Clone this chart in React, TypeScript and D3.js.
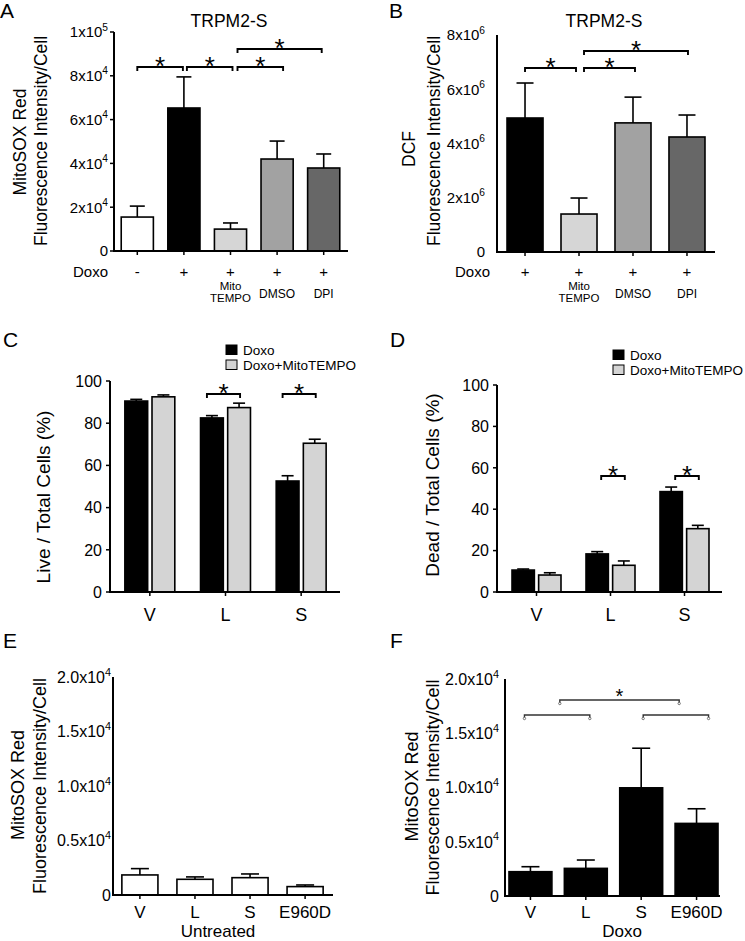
import React from "react";
import * as d3 from "d3";

const FONT = "'Liberation Sans', Arial, Helvetica, sans-serif";

// ---------- Panel A ----------
const aGroups = ["Control", "Doxo", "Doxo+MitoTEMPO", "Doxo+DMSO", "Doxo+DPI"];
const aDoxo = ["-", "+", "+", "+", "+"];
const aSub = [[], [], ["Mito", "TEMPO"], ["DMSO"], ["DPI"]];
const aValues = [15500, 65300, 10000, 42000, 37900];
const aErrors = [5000, 14200, 2800, 8200, 6400];
const aColors = ["#ffffff", "#000000", "#d6d6d6", "#a2a2a2", "#676767"];
const aTicks = [0, 2e4, 4e4, 6e4, 8e4, 1e5];
const aTickLabels = [["0", ""], ["2x10", "4"], ["4x10", "4"], ["6x10", "4"], ["8x10", "4"], ["1x10", "5"]];
const aBrackets = [[0, 1], [1, 2], [2, 3], [2, 4]];

// ---------- Panel B ----------
const bGroups = ["Doxo", "Doxo+MitoTEMPO", "Doxo+DMSO", "Doxo+DPI"];
const bDoxo = ["+", "+", "+", "+"];
const bSub = [[], ["Mito", "TEMPO"], ["DMSO"], ["DPI"]];
const bValues = [4.94e6, 1.4e6, 4.76e6, 4.24e6];
const bErrors = [1.29e6, 0.59e6, 0.95e6, 0.81e6];
const bColors = ["#000000", "#d6d6d6", "#a2a2a2", "#676767"];
const bTicks = [0, 2e6, 4e6, 6e6, 8e6];
const bTickLabels = [["0", ""], ["2x10", "6"], ["4x10", "6"], ["6x10", "6"], ["8x10", "6"]];
const bBrackets = [[0, 1], [1, 2], [1, 3]];

// ---------- Panels C & D ----------
const cdGroups = ["V", "L", "S"];
const cdSeries = ["Doxo", "Doxo+MitoTEMPO"];
const cdColors = ["#000000", "#d4d4d4"];
const cLiveDoxo = [90.5, 82.5, 52.6];
const cLiveDoxoErr = [0.8, 1.1, 2.5];
const cLiveMito = [92.5, 87.4, 70.5];
const cLiveMitoErr = [0.9, 2.1, 1.9];
const dDeadDoxo = [10.6, 18.4, 48.5];
const dDeadDoxoErr = [0.5, 1.1, 2.2];
const dDeadMito = [8.2, 12.9, 30.6];
const dDeadMitoErr = [1.1, 2.1, 1.6];
const cdTicks = [0, 20, 40, 60, 80, 100];
const cdSigGroups = ["L", "S"];

// ---------- Panels E & F ----------
const efGroups = ["V", "L", "S", "E960D"];
const eUntreated = [1840, 1440, 1590, 770];
const eUntreatedErr = [580, 220, 340, 150];
const fDoxo = [2240, 2546, 9970, 6690];
const fDoxoErr = [460, 770, 3650, 1350];
const efTicks = [0, 5000, 10000, 15000, 20000];
const efTickLabels = [["0", ""], ["0.5x10", "4"], ["1.0x10", "4"], ["1.5x10", "4"], ["2.0x10", "4"]];
const fBrackets = [[0, 1, 0], [2, 3, 0], [1, 2, 1]];

const AX = 2;

function YTickLabel({ x, y, label, fs }: any) {
  return (
    <text x={x} y={y + fs * 0.36} textAnchor="end" fontSize={fs}>
      {label[0]}
      {label[1] ? (
        <tspan dy={-fs * 0.45} fontSize={fs * 0.68}>
          {label[1]}
        </tspan>
      ) : null}
    </text>
  );
}

function YAxis({ x, scale, ticks, labels, fs, gap, tick = 4 }: any) {
  const [d0, d1] = scale.domain();
  return (
    <g>
      <line x1={x} x2={x} y1={scale(d0) + 1} y2={scale(d1)} stroke="#000" strokeWidth={AX} />
      {ticks.map((t: number, i: number) => (
        <g key={i}>
          {tick > 0 && <line x1={x - tick} x2={x} y1={scale(t)} y2={scale(t)} stroke="#000" strokeWidth={1.5} />}
          <YTickLabel x={x - gap} y={scale(t)} label={labels[i]} fs={fs} />
        </g>
      ))}
    </g>
  );
}

function XAxis({ x0, x1, y, centers, tick = 4 }: any) {
  return (
    <g>
      <line x1={x0 - 1} x2={x1} y1={y} y2={y} stroke="#000" strokeWidth={AX} />
      {centers.map((c: number, i: number) => (
        <line key={i} x1={c} x2={c} y1={y} y2={y + tick} stroke="#000" strokeWidth={1.5} />
      ))}
    </g>
  );
}

function Bar({ x, w, y0, y, fill, err, cap }: any) {
  const c = x + w / 2;
  return (
    <g>
      <line x1={c} x2={c} y1={y} y2={err} stroke="#000" strokeWidth={1.6} />
      <line x1={c - cap / 2} x2={c + cap / 2} y1={err} y2={err} stroke="#000" strokeWidth={1.6} />
      <rect x={x} y={y} width={w} height={y0 - y} fill={fill} stroke="#000" strokeWidth={1.6} />
    </g>
  );
}

function Bracket({ x1, x2, y, star = 26, drop = 4 }: any) {
  return (
    <g>
      <path d={`M${x1},${y + drop}V${y}H${x2}V${y + drop}`} fill="none" stroke="#000" strokeWidth={1.9} />
      <text x={(x1 + x2) / 2} y={y + 8} textAnchor="middle" fontSize={star}>
        *
      </text>
    </g>
  );
}

function RotLabel({ x, y, text, fs }: any) {
  return (
    <text transform={`translate(${x},${y}) rotate(-90)`} textAnchor="middle" dominantBaseline="central" fontSize={fs}>
      {text}
    </text>
  );
}

function SubLabels({ cx, sub }: any) {
  if (sub.length === 2)
    return (
      <>
        <text x={cx} y={289.5} textAnchor="middle" fontSize={11.5}>{sub[0]}</text>
        <text x={cx} y={302} textAnchor="middle" fontSize={11.5}>{sub[1]}</text>
      </>
    );
  if (sub.length === 1)
    return <text x={cx} y={298} textAnchor="middle" fontSize={12}>{sub[0]}</text>;
  return null;
}

function PanelA() {
  const y = d3.scaleLinear().domain([0, 1e5]).range([251, 32]);
  const x = d3.scaleBand().domain(aGroups).range([114, 347]).paddingInner(0.31).paddingOuter(0.155);
  const bw = x.bandwidth();
  const cx = (i: number) => (x(aGroups[i]) as number) + bw / 2;
  const offs = [[0, -1], [3, 2], [7, 6], [7, -2]];
  const levels = [67, 67, 67, 49];
  return (
    <g>
      <text x={0} y={18} fontSize={21}>A</text>
      <text x={229} y={27} textAnchor="middle" fontSize={17.5}>TRPM2-S</text>
      <RotLabel x={20} y={142} text="MitoSOX Red" fs={17.5} />
      <RotLabel x={41} y={141} text="Fluorescence Intensity/Cell" fs={17.5} />
      {aGroups.map((g, i) => (
        <Bar key={g} x={x(g)} w={bw} y0={y(0)} y={y(aValues[i])} err={y(aValues[i] + aErrors[i])} fill={aColors[i]} cap={15} />
      ))}
      <YAxis x={114} scale={y} ticks={aTicks} labels={aTickLabels} fs={15} gap={6} />
      <XAxis x0={114} x1={348} y={251} centers={aGroups.map((_, i) => cx(i))} />
      {aBrackets.map(([f, t], i) => (
        <Bracket key={i} x1={cx(f) + offs[i][0]} x2={cx(t) + offs[i][1]} y={levels[i]} />
      ))}
      <text x={73} y={277} fontSize={15}>Doxo</text>
      {aGroups.map((g, i) => (
        <g key={g}>
          <text x={cx(i)} y={277} textAnchor="middle" fontSize={15}>{aDoxo[i]}</text>
          <SubLabels cx={cx(i)} sub={aSub[i]} />
        </g>
      ))}
    </g>
  );
}

function PanelB() {
  const y = d3.scaleLinear().domain([0, 8e6]).range([252, 35]);
  const x = d3.scaleBand().domain(bGroups).range([498, 714]).paddingInner(0.333).paddingOuter(0.167);
  const bw = x.bandwidth();
  const cx = (i: number) => (x(bGroups[i]) as number) + bw / 2;
  const offs = [[0, -3], [5, 2], [5, 1]];
  const levels = [68, 68, 51];
  return (
    <g>
      <text x={389} y={18} fontSize={21}>B</text>
      <text x={604} y={27} textAnchor="middle" fontSize={17.5}>TRPM2-S</text>
      <RotLabel x={409} y={149} text="DCF" fs={17.5} />
      <RotLabel x={434} y={141} text="Fluorescence Intensity/Cell" fs={17.5} />
      {bGroups.map((g, i) => (
        <Bar key={g} x={x(g)} w={bw} y0={y(0)} y={y(bValues[i])} err={y(bValues[i] + bErrors[i])} fill={bColors[i]} cap={17} />
      ))}
      <YAxis x={497} scale={y} ticks={bTicks} labels={bTickLabels} fs={15} gap={12} tick={0} />
      <XAxis x0={497} x1={715} y={252} centers={bGroups.map((_, i) => cx(i))} />
      {bBrackets.map(([f, t], i) => (
        <Bracket key={i} x1={cx(f) + offs[i][0]} x2={cx(t) + offs[i][1]} y={levels[i]} />
      ))}
      <text x={455} y={277} fontSize={15}>Doxo</text>
      {bGroups.map((g, i) => (
        <g key={g}>
          <text x={cx(i)} y={277} textAnchor="middle" fontSize={15}>{bDoxo[i]}</text>
          <SubLabels cx={cx(i)} sub={bSub[i]} />
        </g>
      ))}
    </g>
  );
}

function GroupedPanel({ letter, lx, axisX, xEnd, y0, yTop, range, pIn, pOut, vals, errs, title, titleX, titleY, legX, legY, brY, brOffs }: any) {
  const y = d3.scaleLinear().domain([0, 100]).range([y0, yTop]);
  const x = d3.scaleBand().domain(cdGroups).range(range).paddingInner(pIn).paddingOuter(pOut);
  const xs = d3.scaleBand().domain(cdSeries).range([0, x.bandwidth()]).paddingInner(0.16);
  const bw = xs.bandwidth();
  const gc = (g: string) => (x(g) as number) + x.bandwidth() / 2;
  const bc = (g: string, s: string) => (x(g) as number) + (xs(s) as number) + bw / 2;
  return (
    <g>
      <text x={lx} y={347} fontSize={21}>{letter}</text>
      <rect x={legX} y={legY} width={11} height={9.5} fill={cdColors[0]} stroke="#000" strokeWidth={1} />
      <text x={legX + 17} y={legY + 9.5} fontSize={13.5}>{cdSeries[0]}</text>
      <rect x={legX} y={legY + 15} width={11} height={9.5} fill={cdColors[1]} stroke="#000" strokeWidth={1} />
      <text x={legX + 17} y={legY + 24.5} fontSize={13.5}>{cdSeries[1]}</text>
      <RotLabel x={titleX} y={titleY} text={title} fs={19} />
      {cdGroups.map((g, gi) =>
        cdSeries.map((s, si) => (
          <Bar key={g + s} x={(x(g) as number) + (xs(s) as number)} w={bw} y0={y(0)} y={y(vals[si][gi])} err={y(vals[si][gi] + errs[si][gi])} fill={cdColors[si]} cap={12} />
        ))
      )}
      <YAxis x={axisX} scale={y} ticks={cdTicks} labels={cdTicks.map((t) => [String(t), ""])} fs={16} gap={8} />
      <XAxis x0={axisX} x1={xEnd} y={y0} centers={cdGroups.map(gc)} />
      {cdSigGroups.map((g) => (
        <Bracket key={g} x1={bc(g, cdSeries[0]) + brOffs[0]} x2={bc(g, cdSeries[1]) + brOffs[1]} y={brY} />
      ))}
      {cdGroups.map((g) => (
        <text key={g} x={gc(g)} y={621} textAnchor="middle" fontSize={18}>{g}</text>
      ))}
    </g>
  );
}

function EFPanel({ letter, lx, axisX, xEnd, y0, yTop, range, pIn, pOut, vals, errs, fill, group, groupX, l1x, l2x, gap, brackets, brOffs }: any) {
  const y = d3.scaleLinear().domain([0, 20000]).range([y0, yTop]);
  const x = d3.scaleBand().domain(efGroups).range(range).paddingInner(pIn).paddingOuter(pOut);
  const bw = x.bandwidth();
  const cx = (i: number) => (x(efGroups[i]) as number) + bw / 2;
  const mid = (yTop + y0) / 2;
  return (
    <g>
      <text x={lx} y={648} fontSize={21}>{letter}</text>
      <RotLabel x={l1x} y={mid - 1} text="MitoSOX Red" fs={18} />
      <RotLabel x={l2x} y={mid} text="Fluorescence Intensity/Cell" fs={18} />
      {efGroups.map((g, i) => (
        <Bar key={g} x={x(g)} w={bw} y0={y(0)} y={y(vals[i])} err={y(vals[i] + errs[i])} fill={fill} cap={18} />
      ))}
      <YAxis x={axisX} scale={y} ticks={efTicks} labels={efTickLabels} fs={16} gap={gap} tick={0} />
      <XAxis x0={axisX} x1={xEnd} y={y0} centers={efGroups.map((_, i) => cx(i))} />
      {efGroups.map((g, i) => (
        <text key={g} x={cx(i)} y={918} textAnchor="middle" fontSize={17}>{g}</text>
      ))}
      <text x={groupX} y={936.5} textAnchor="middle" fontSize={17}>{group}</text>
      {brackets &&
        brackets.map(([f, t, lvl]: number[], i: number) => {
          const by = lvl === 0 ? 715 : 700;
          const x1 = cx(f) + brOffs[i][0];
          const x2 = cx(t) + brOffs[i][1];
          return (
            <g key={i}>
              <path d={`M${x1},${by + 3}V${by}H${x2}V${by + 3}`} fill="none" stroke="#333" strokeWidth={1.4} />
              <circle cx={x1} cy={by + 3.5} r={1.2} fill="#fff" stroke="#555" strokeWidth={0.8} />
              <circle cx={x2} cy={by + 3.5} r={1.2} fill="#fff" stroke="#555" strokeWidth={0.8} />
              {lvl === 1 && (
                <text x={(x1 + x2) / 2} y={by + 3} textAnchor="middle" fontSize={20}>*</text>
              )}
            </g>
          );
        })}
    </g>
  );
}

export default function App() {
  return (
    <svg width={745} height={941} style={{ position: "absolute", left: 0, top: 0, background: "#fff" }} fontFamily={FONT} fill="#000">
      <rect width={745} height={941} fill="#fff" />
      <PanelA />
      <PanelB />
      <GroupedPanel
        letter="C" lx={3} axisX={110} xEnd={340} y0={592} yTop={381}
        range={[112, 339]} pIn={0.34} pOut={0.17}
        vals={[cLiveDoxo, cLiveMito]} errs={[cLiveDoxoErr, cLiveMitoErr]}
        title="Live / Total Cells (%)" titleX={43} titleY={497}
        legX={226} legY={345} brY={394} brOffs={[-5, 1]}
      />
      <GroupedPanel
        letter="D" lx={390} axisX={497} xEnd={722} y0={592} yTop={385}
        range={[499.5, 721.5]} pIn={0.338} pOut={0.169}
        vals={[dDeadDoxo, dDeadMito]} errs={[dDeadDoxoErr, dDeadMitoErr]}
        title="Dead / Total Cells (%)" titleX={432} titleY={485}
        legX={613} legY={350} brY={476} brOffs={[4, 1]}
      />
      <EFPanel
        letter="E" lx={3} axisX={113} xEnd={333} y0={895} yTop={677}
        range={[112.5, 332.5]} pIn={0.345} pOut={0.17}
        vals={eUntreated} errs={eUntreatedErr} fill="#fff"
        group="Untreated" groupX={218} l1x={18} l2x={40} gap={2}
      />
      <EFPanel
        letter="F" lx={390} axisX={505} xEnd={720} y0={896} yTop={679}
        range={[505, 722]} pIn={0.225} pOut={0.072}
        vals={fDoxo} errs={fDoxoErr} fill="#000"
        group="Doxo" groupX={622} l1x={412} l2x={433} gap={6}
        brackets={fBrackets} brOffs={[[-6, 4], [2, 12], [-26, 38]]}
      />
    </svg>
  );
}
